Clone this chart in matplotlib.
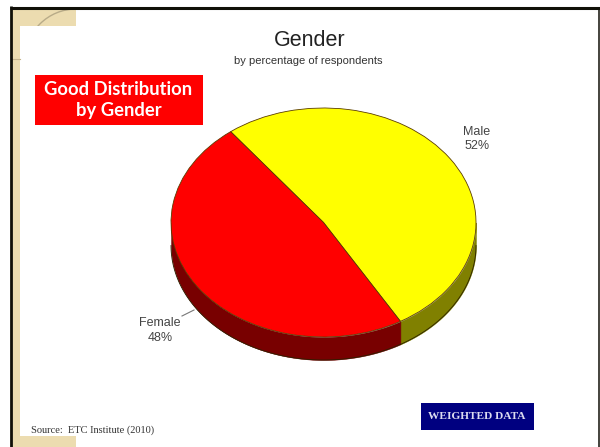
import numpy as np
import matplotlib
matplotlib.use("Agg")
import matplotlib.pyplot as plt
from matplotlib.patches import Rectangle, Arc

labels = ["Male", "Female"]
values = [52, 48]
top_colors = ["#ffff00", "#ff0000"]
side_colors = ["#808000", "#780000"]
start_angle = 127.5

W, H = 600, 447
cx, cy, rx, ry = 323.5, 222.5, 152.5, 114.5
depth = 23

fig = plt.figure(figsize=(W / 100, H / 100), dpi=100)

# slide background, in pixels
bg = fig.add_axes([0, 0, 1, 1])
bg.set_xlim(0, W)
bg.set_ylim(H, 0)
bg.axis("off")
beige = "#ecdcb0"
bg.add_patch(Rectangle((12, 8), 64, 18, fc=beige, ec="none"))
bg.add_patch(Rectangle((12, 8), 8, 439, fc=beige, ec="none"))
bg.add_patch(Rectangle((12, 436), 64, 11, fc=beige, ec="none"))
bg.add_patch(Arc((76, 60), 102, 102, theta1=180, theta2=270, ec="#b8ab88", lw=1))
bg.plot([12, 20], [59, 59], color="#c4b48c", lw=0.8)
bg.add_patch(Rectangle((20, 26), 578, 410, fc="white", ec="none"))
bg.plot([11.2, 11.2], [447, 6], color="#111008", lw=2.0, solid_capstyle="butt")
bg.plot([10, 600], [7.5, 7.5], color="#111008", lw=2.2, solid_capstyle="butt")
bg.plot([599, 599], [7.5, 447], color="#111008", lw=1.1, solid_capstyle="butt")

# pie, unit circle stretched to the ellipse
ax = fig.add_axes([0, 0, 1, 1], facecolor="none")
edges = start_angle - 360 * np.cumsum([0] + values) / sum(values)
for i in range(len(values)):
    a = max(edges[i + 1], -180)
    b = min(edges[i], 0)
    t = np.radians(np.linspace(a, b, 120))
    ax.fill_between(np.cos(t), np.sin(t), np.sin(t) - depth / ry,
                    color=side_colors[i], lw=0.3)
    ax.plot(np.cos(t), np.sin(t) - depth / ry, color="#2a2000", lw=0.6)
ax.pie(values, colors=top_colors, startangle=start_angle, counterclock=False,
       wedgeprops=dict(edgecolor="#5a3c00", linewidth=0.6))
ax.set_aspect("auto")
ax.set_xlim(-cx / rx, (W - cx) / rx)
ax.set_ylim((cy - H) / ry, cy / ry)
ax.axis("off")

# text on top
tx = fig.add_axes([0, 0, 1, 1], facecolor="none")
tx.set_xlim(0, W)
tx.set_ylim(H, 0)
tx.axis("off")
sans = "Liberation Sans"
tx.text(310, 40, "Gender", ha="center", va="center", fontsize=15.5, family=sans, color="#222222")
tx.text(308, 60.5, "by percentage of respondents", ha="center", va="center", fontsize=8, family=sans, color="#333333")
tx.text(477, 139, "Male\n52%", ha="center", va="center", fontsize=9, family=sans, color="#444444", linespacing=1.3)
tx.text(160, 330.5, "Female\n48%", ha="center", va="center", fontsize=9, family=sans, color="#444444", linespacing=1.25)
tx.plot([182, 194], [316, 310], color="#777777", lw=0.8)

tx.add_patch(Rectangle((35, 75), 168, 50, fc="#ff0000", ec="none"))
tx.text(118.5, 100, "Good Distribution\nby Gender", ha="center", va="center", fontsize=13.2, family="Lato",
        fontweight="bold", color="white", linespacing=1.22)

tx.add_patch(Rectangle((421, 403), 113, 27, fc="#000080", ec="none"))
tx.text(476.5, 416.5, "WEIGHTED DATA", ha="center", va="center", fontsize=8.2, family="Liberation Serif",
        fontweight="bold", color="#dcdcf0")
tx.text(31, 430, "Source:  ETC Institute (2010)", ha="left", va="center", fontsize=7.5,
        family="Liberation Serif", color="#333333")

fig.savefig("out.png", dpi=100)
